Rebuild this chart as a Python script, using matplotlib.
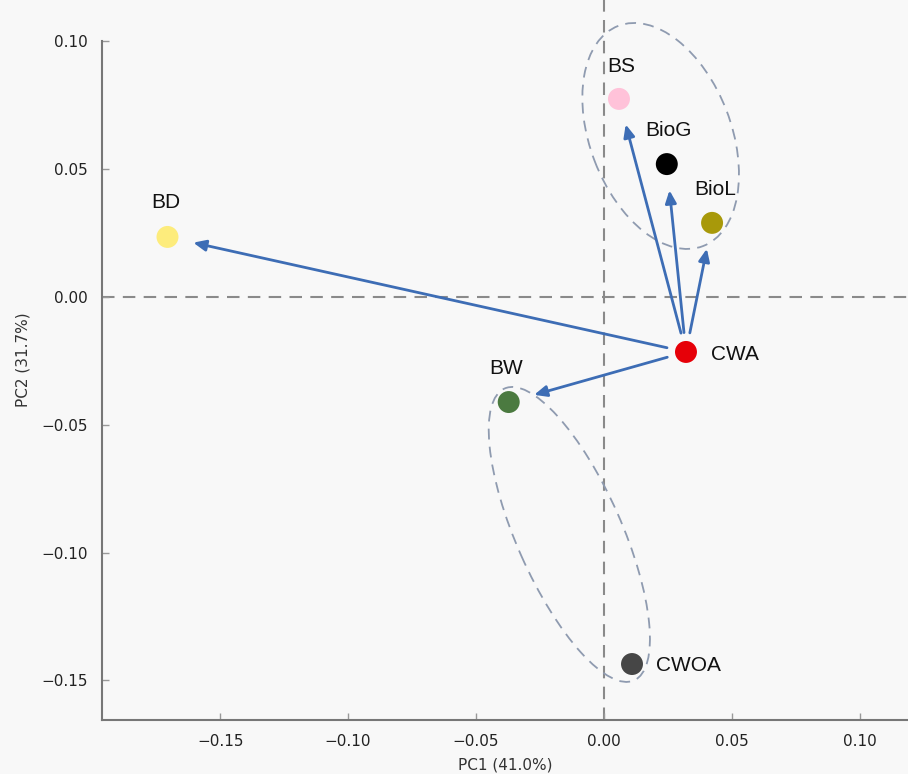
import matplotlib
matplotlib.use("Agg")
import matplotlib.pyplot as plt
from matplotlib.patches import Ellipse

# sample scores
names = ["BS", "BioG", "BioL", "BD", "CWA", "BW", "CWOA"]
pc1 = [0.0059, 0.0246, 0.0423, -0.1706, 0.0321, -0.0372, 0.0110]
pc2 = [0.0775, 0.0520, 0.0290, 0.0235, -0.0215, -0.0411, -0.1436]
colors = ["#ffc2d9", "#000000", "#a8990a", "#fdec7c", "#e60008", "#4b7a40", "#464646"]

# arrows drawn from CWA to these samples
arrow_src = "CWA"
arrow_dst = ["BD", "BS", "BioG", "BioL", "BW"]

# grouping ellipses: centre, width, height, angle (data units)
ell_cx = [0.0222, -0.0135]
ell_cy = [0.0630, -0.0929]
ell_w = [0.0923, 0.1249]
ell_h = [0.0552, 0.0411]
ell_ang = [-69.0, -66.1]

xticks = [-0.15, -0.10, -0.05, 0.00, 0.05, 0.10]
yticks = [-0.15, -0.10, -0.05, 0.00, 0.05, 0.10]

# label offsets in points (dx, dy)
lab_off = {"BS": (2, 23), "BioG": (1, 24), "BioL": (2, 24), "BD": (-1, 25),
           "CWA": (18, -2), "BW": (-2, 24), "CWOA": (17, -1)}

bg = "#f8f8f8"
fig = plt.figure(figsize=(9.08, 7.74), dpi=100, facecolor=bg)
ax = fig.add_axes([101.5 / 908, 54 / 774, 1 - 101.5 / 908, 720 / 774])
ax.set_facecolor(bg)

ax.set_xlim(-0.1964, 0.1189)
ax.set_ylim(-0.1655, 0.1162)

ax.axhline(0, color="#8a8a8a", lw=1.5, ls=(0, (6, 4)), zorder=1)
ax.axvline(0, color="#8a8a8a", lw=1.5, ls=(0, (6, 4)), zorder=1)

for cx, cy, w, h, a in zip(ell_cx, ell_cy, ell_w, ell_h, ell_ang):
    e = Ellipse((cx, cy), w, h, angle=a, fill=False, ec="#8f9bb0",
                lw=1.3, ls=(0, (6, 4)), zorder=2)
    ax.add_patch(e)

si = names.index(arrow_src)
for d in arrow_dst:
    di = names.index(d)
    ax.annotate("", xy=(pc1[di], pc2[di]), xytext=(pc1[si], pc2[si]),
                arrowprops=dict(arrowstyle="-|>,head_length=0.5,head_width=0.22",
                                color="#3d6db5", lw=2, mutation_scale=15,
                                shrinkA=14, shrinkB=19),
                zorder=3)

ax.scatter(pc1, pc2, s=250, c=colors, edgecolors="none", zorder=4)

for n, x, y in zip(names, pc1, pc2):
    dx, dy = lab_off[n]
    ha = "left" if n in ("CWA", "CWOA") else "center"
    ax.annotate(n, (x, y), xytext=(dx, dy), textcoords="offset points",
                ha=ha, va="center", fontsize=15, family="Liberation Sans",
                color="#111111", zorder=5)

ax.set_xticks(xticks)
ax.set_yticks(yticks)
ax.set_xticklabels(["\u22120.15", "\u22120.10", "\u22120.05", "0.00", "0.05", "0.10"])
ax.set_yticklabels(["\u22120.15", "\u22120.10", "\u22120.05", "0.00", "0.05", "0.10"])
ax.tick_params(direction="in", length=5, width=1, color="#999999",
               labelsize=11, labelcolor="#222222", pad=10)

for s in ["top", "right"]:
    ax.spines[s].set_visible(False)
for s in ["left", "bottom"]:
    ax.spines[s].set_color("#777777")
    ax.spines[s].set_linewidth(1.5)
ax.spines["left"].set_bounds(-0.1655, 0.10)

ax.set_xlabel("PC1 (41.0%)", fontsize=11, color="#333333", labelpad=6)
ax.set_ylabel("PC2 (31.7%)", fontsize=11, color="#333333", labelpad=8)

fig.savefig("out.png", dpi=100, facecolor=bg)
